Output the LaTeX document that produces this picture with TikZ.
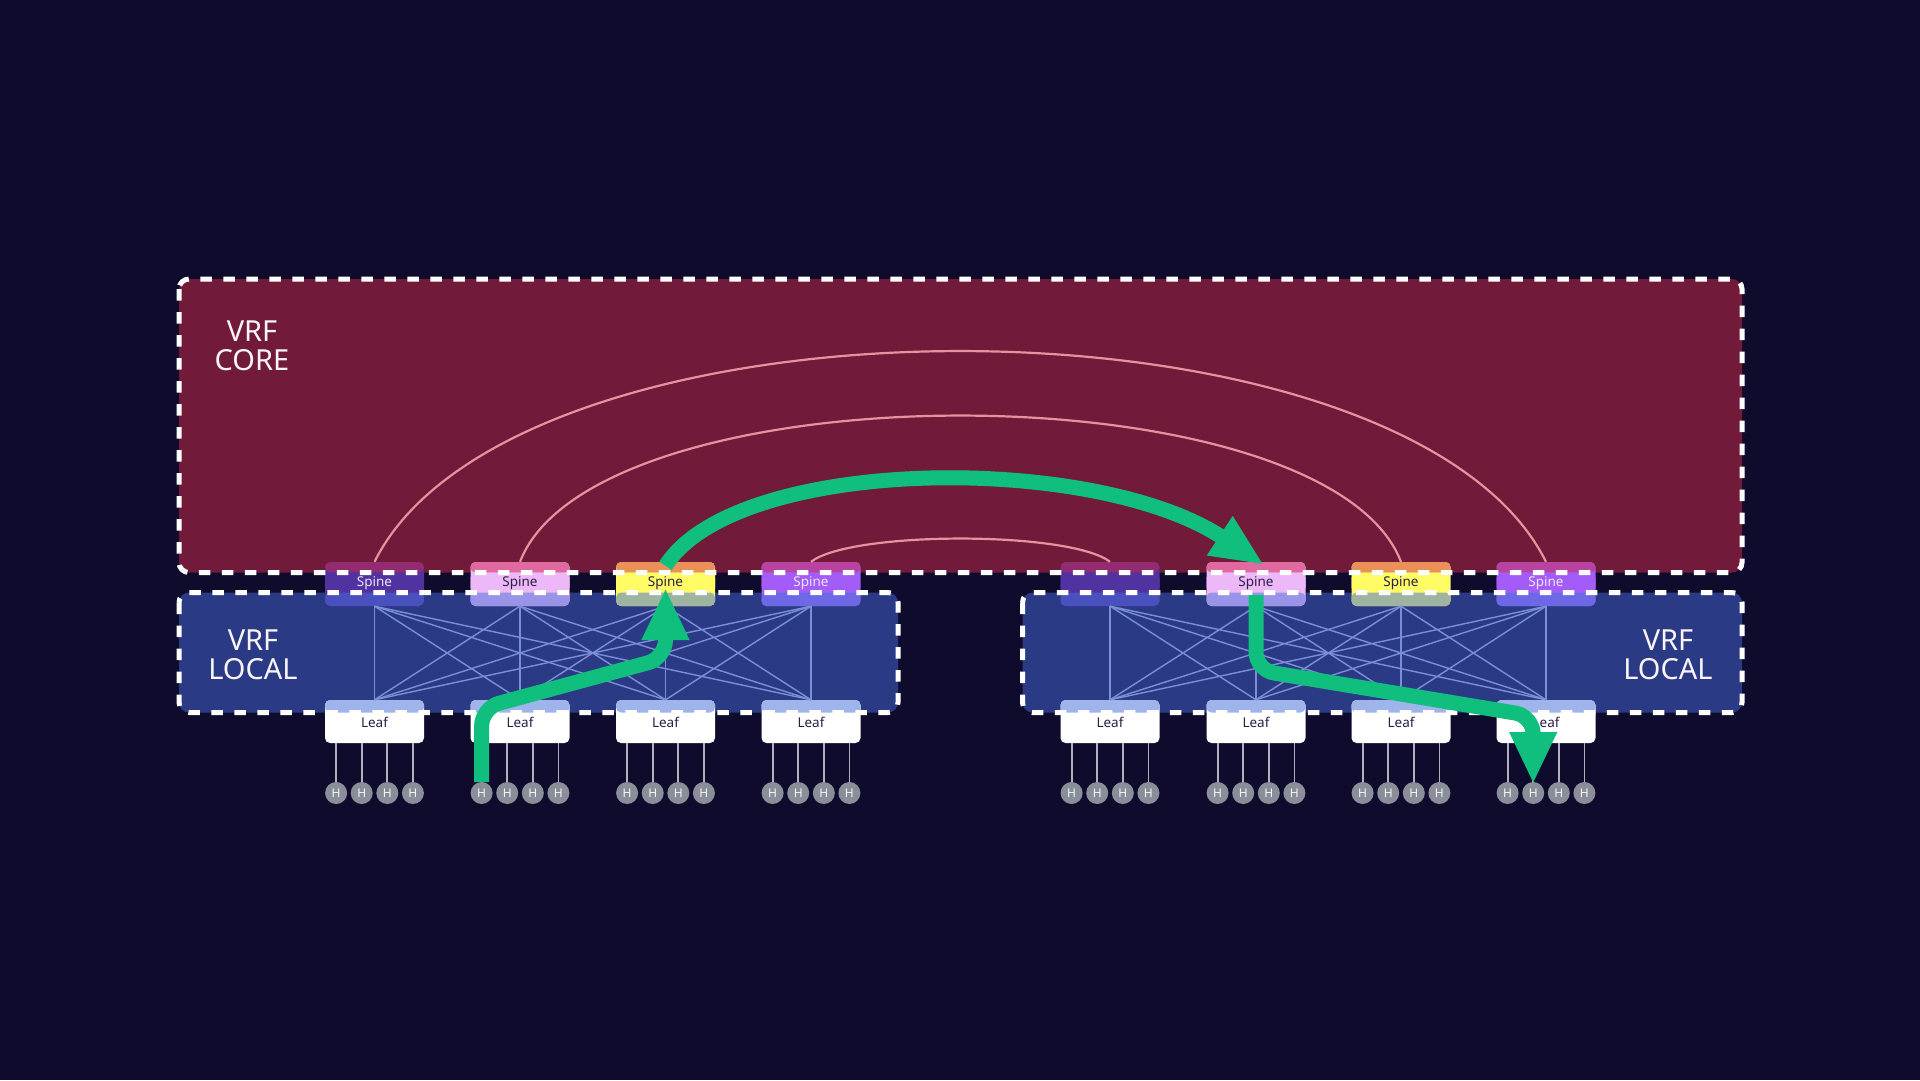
\documentclass[tikz,border=0pt]{standalone}
\usepackage{fontspec}
\setmainfont{Noto Sans}
\usetikzlibrary{arrows.meta}
\definecolor{bgc}{HTML}{0F0B2C}
\definecolor{corefill}{HTML}{721A3A}
\definecolor{localfill}{HTML}{2B3A84}
\definecolor{arcc}{HTML}{E8919F}
\definecolor{meshc}{HTML}{7B8FD6}
\definecolor{hostc}{HTML}{8A8E99}
\definecolor{hostline}{HTML}{B0B0BE}
\definecolor{leaftop}{HTML}{A0B4EC}
\definecolor{greenc}{HTML}{10BF7E}
\definecolor{sAa}{HTML}{932B70}\definecolor{sAb}{HTML}{5032A0}\definecolor{sAc}{HTML}{4A50BE}
\definecolor{sBa}{HTML}{E06AA0}\definecolor{sBb}{HTML}{ECB8F8}\definecolor{sBc}{HTML}{9A94E8}
\definecolor{sCa}{HTML}{EA915A}\definecolor{sCb}{HTML}{FEFB64}\definecolor{sCc}{HTML}{9FB4A0}
\definecolor{sDa}{HTML}{B843A0}\definecolor{sDb}{HTML}{A35CF8}\definecolor{sDc}{HTML}{6F68E6}
\definecolor{lighttxt}{HTML}{EDE4FF}
\definecolor{darktxt}{HTML}{2B1F45}
\tikzset{
  spinebox/.style n args={3}{minimum width=99pt, minimum height=44pt, inner sep=0pt,
    rounded corners=5pt, fill=#2, path picture={
      \fill[#1] (path picture bounding box.north west) rectangle ([yshift=-10.5pt]path picture bounding box.north east);
      \fill[#2] ([yshift=-10.5pt]path picture bounding box.north west) rectangle ([yshift=-30.5pt]path picture bounding box.north east);
      \fill[#3] ([yshift=-30.5pt]path picture bounding box.north west) rectangle (path picture bounding box.south east);
    }},
  leafbox/.style={minimum width=99pt, minimum height=43pt, inner sep=0pt,
    rounded corners=5pt, fill=white, path picture={
      \fill[leaftop] (path picture bounding box.north west) rectangle ([yshift=-12.5pt]path picture bounding box.north east);
    }},
  hostnode/.style={circle, fill=hostc, minimum size=22pt, inner sep=0pt,
    text=white!92!gray, font=\fontsize{12}{14}\selectfont},
  smalllbl/.style={inner sep=0pt, font=\fontsize{13.5}{15}\selectfont},
  biglabel/.style={align=center, text=white!96!violet, font=\fontsize{29}{29.5}\selectfont},
  vrfborder/.style={draw=white, line width=5pt, dash pattern=on 11.5pt off 11.5pt, rounded corners=10pt},
  mesh/.style={draw=meshc, line width=1.4pt},
  hline/.style={draw=hostline, line width=1.8pt},
  arcline/.style={draw=arcc, line width=2.2pt},
  greenpath/.style={draw=greenc, line width=15pt, -{Triangle[length=52pt,width=44pt]}}
}
\begin{document}
\begin{tikzpicture}[x=1pt,y=-1pt]
\useasboundingbox (0,0) rectangle (1920,1080);
\fill[bgc] (0,0) rectangle (1920,1080);
% regions
\fill[corefill, rounded corners=10pt] (179,279) rectangle (1742,572.5);
\fill[localfill, rounded corners=10pt] (179,592.5) rectangle (898,712.5);
\fill[localfill, rounded corners=10pt] (1022.5,592.5) rectangle (1742,712.5);
\node[biglabel] (corelbl) at (252,346) {VRF\\CORE};
\node[biglabel] (locallbl1) at (253,655) {VRF\\LOCAL};
\node[biglabel] (locallbl2) at (1668,655) {VRF\\LOCAL};
% spines
\node[spinebox={sAa}{sAb}{sAc}] (s1) at (374.5,584) {};
\node[spinebox={sBa}{sBb}{sBc}] (s2) at (520,584) {};
\node[spinebox={sCa}{sCb}{sCc}] (s3) at (665.5,584) {};
\node[spinebox={sDa}{sDb}{sDc}] (s4) at (811,584) {};
\node[spinebox={sAa}{sAb}{sAc}] (s5) at (1110,584) {};
\node[spinebox={sBa}{sBb}{sBc}] (s6) at (1256,584) {};
\node[spinebox={sCa}{sCb}{sCc}] (s7) at (1401,584) {};
\node[spinebox={sDa}{sDb}{sDc}] (s8) at (1546,584) {};
% leaves and hosts
\foreach \i/\x in {1/374.5,2/520,3/665.5,4/811,5/1110,6/1256,7/1401,8/1546}{
  \node[leafbox] (l\i) at (\x,721.5) {};
  \foreach \j in {1,2,3,4}{
    \coordinate (hc\i\j) at ({\x+(\j-2.5)*25.6},793);
  }
}
% mesh
\foreach \a in {1,...,4}{\foreach \b in {1,...,4}{\draw[mesh] (s\a.south) -- (l\b.north);}}
\foreach \a in {5,...,8}{\foreach \b in {5,...,8}{\draw[mesh] (s\a.south) -- (l\b.north);}}
% host lines
\foreach \i in {1,...,8}{\foreach \j in {1,2,3,4}{
  \draw[hline] ([yshift=11pt]hc\i\j) -- (hc\i\j |- l\i.south);
}}
% arcs
\draw[arcline] (s1.north) .. controls +(140,-281) and +(-140,-281) .. (s8.north);
\draw[arcline] (s2.north) .. controls +(75,-195) and +(-75,-195) .. (s7.north);
\draw[arcline] (s4.north) .. controls +(40,-31) and +(-40,-31) .. (s5.north);
% dashed borders
\draw[vrfborder] (179,279) rectangle (1742,572.5);
\draw[vrfborder] (179,592.5) rectangle (898,712.5);
\draw[vrfborder] (1022.5,592.5) rectangle (1742,712.5);
% labels
\node[smalllbl, text=lighttxt] (t1) at (374.5,583) {Spine};
\node[smalllbl, text=darktxt] (t2) at (520,583) {Spine};
\node[smalllbl, text=darktxt] (t3) at (665.5,583) {Spine};
\node[smalllbl, text=lighttxt] (t4) at (811,583) {Spine};
\node[smalllbl, text=darktxt] (t6) at (1256,583) {Spine};
\node[smalllbl, text=darktxt] (t7) at (1401,583) {Spine};
\node[smalllbl, text=lighttxt] (t8) at (1546,583) {Spine};
\foreach \i in {1,...,8}{\node[smalllbl, text=darktxt] (lt\i) at ([yshift=-1pt]l\i.center) {Leaf};}
% green path
\coordinate (g1) at (481.6,708);
\coordinate (g2) at (665.5,658);
\coordinate (g3) at (1256,670);
\coordinate (g4) at (1533.2,716);
\draw[greenpath, rounded corners=18pt] ([yshift=11pt]hc21) -- (g1) -- (g2) -- ([yshift=-4pt]s3.center);
\draw[greenpath, -{Triangle[length=53pt,width=43pt]}] ([yshift=-4pt]s3.north) .. controls +(70,-110) and +(-172,-113) .. ([xshift=8pt,yshift=-3pt]s6.north);
\draw[greenpath, rounded corners=18pt] ([yshift=11pt]s6.south) -- (g3) -- (g4) -- ([yshift=9pt]hc82);
% hosts on top
\foreach \i in {1,...,8}{\foreach \j in {1,2,3,4}{
  \node[hostnode] (h\i\j) at (hc\i\j) {H};
}}
\end{tikzpicture}
\end{document}
